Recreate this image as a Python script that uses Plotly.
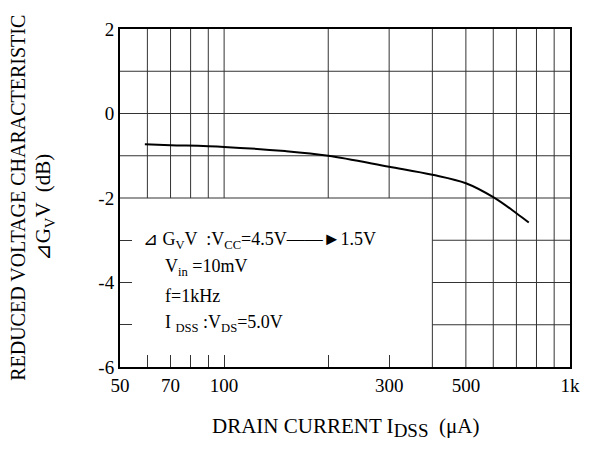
import plotly.graph_objects as go

# ---- data ----
x_curve = [59, 70, 100, 150, 200, 300, 400, 500, 600, 700, 760]
y_curve = [-0.73, -0.75, -0.79, -0.89, -1.0, -1.26, -1.45, -1.65, -1.98, -2.36, -2.58]

x_tick_vals = [50, 70, 100, 300, 500, 1000]
x_tick_text = ["50", "70", "100", "300", "500", "1k"]
y_tick_vals = [2, 0, -2, -4, -6]
y_tick_text = ["2", "0", "-2", "-4", "-6"]

x_grid_short = [60, 70, 80, 90, 100, 200, 300]      # stop at -2
x_grid_full = [400, 500, 600, 700, 800, 900]
y_grid_full = [1, 0, -1, -2]
y_grid_short = [-3, -4, -5]                          # start at 400

X_MIN, X_MAX = 50, 1000
Y_MIN, Y_MAX = -6, 2

FONT = "Liberation Serif, Times New Roman, serif"

gx, gy = [], []
for v in x_grid_short:
    gx += [v, v, None]; gy += [-2, Y_MAX, None]
for v in x_grid_full:
    gx += [v, v, None]; gy += [Y_MIN, Y_MAX, None]
for v in y_grid_full:
    gx += [X_MIN, X_MAX, None]; gy += [v, v, None]
for v in y_grid_short:
    gx += [400, X_MAX, None]; gy += [v, v, None]

fig = go.Figure()
fig.add_trace(go.Scatter(x=gx, y=gy, mode="lines", line=dict(color="#333333", width=1),
                         hoverinfo="skip", showlegend=False))
fig.add_trace(go.Scatter(x=x_curve, y=y_curve, mode="lines", line=dict(color="black", width=2, shape="spline"),
                         showlegend=False))

fig.update_xaxes(type="log", range=[1.69897, 3], tickvals=x_tick_vals, ticktext=x_tick_text,
                 showgrid=False, zeroline=False, showline=True, linecolor="black", linewidth=2, mirror=True,
                 ticks="", tickfont=dict(family=FONT, size=19, color="black"),
                 minor=dict(tickmode="array", tickvals=x_grid_short, ticks="inside", ticklen=12,
                            tickcolor="#333333", tickwidth=1, showgrid=False))
fig.update_yaxes(range=[Y_MIN, Y_MAX], tickvals=y_tick_vals, ticktext=y_tick_text,
                 showgrid=False, zeroline=False, showline=True, linecolor="black", linewidth=2, mirror=True,
                 ticks="", tickfont=dict(family=FONT, size=19, color="black"),
                 minor=dict(tickmode="array", tickvals=y_grid_short, ticks="inside", ticklen=12,
                            tickcolor="#333333", tickwidth=1, showgrid=False))

ann = []
def A(text, x, y, size, xanchor="left", angle=0):
    ann.append(dict(text=text, x=x, y=y, xref="paper", yref="paper", showarrow=False,
                    xanchor=xanchor, yanchor="middle", textangle=angle,
                    font=dict(family=FONT, size=size, color="black")))

A("⊿ G<sub>V</sub>V  :V<sub>CC</sub>=4.5V——►1.5V", 0.047, 0.3745, 18)
A("V<sub>in</sub> =10mV", 0.0954, 0.294, 18)
A("f=1kHz", 0.0954, 0.211, 18)
A("I <sub>DSS</sub> :V<sub>DS</sub>=5.0V", 0.0954, 0.129, 18)
A("DRAIN CURRENT I<sub><span style='font-size:19px'>DSS</span></sub>  (μA)", 0.5, -0.179, 21, xanchor="center")
A("REDUCED VOLTAGE CHARACTERISTIC", -0.227, 0.50, 20, xanchor="center", angle=-90)
A("⊿G<sub>V</sub>V  (dB)", -0.167, 0.472, 21, xanchor="center", angle=-90)

fig.update_layout(width=583, height=444, margin=dict(l=112, r=11, t=18, b=85),
                  plot_bgcolor="white", paper_bgcolor="white", annotations=ann,
                  font=dict(family=FONT, color="black"))
fig.write_html("out.html")
